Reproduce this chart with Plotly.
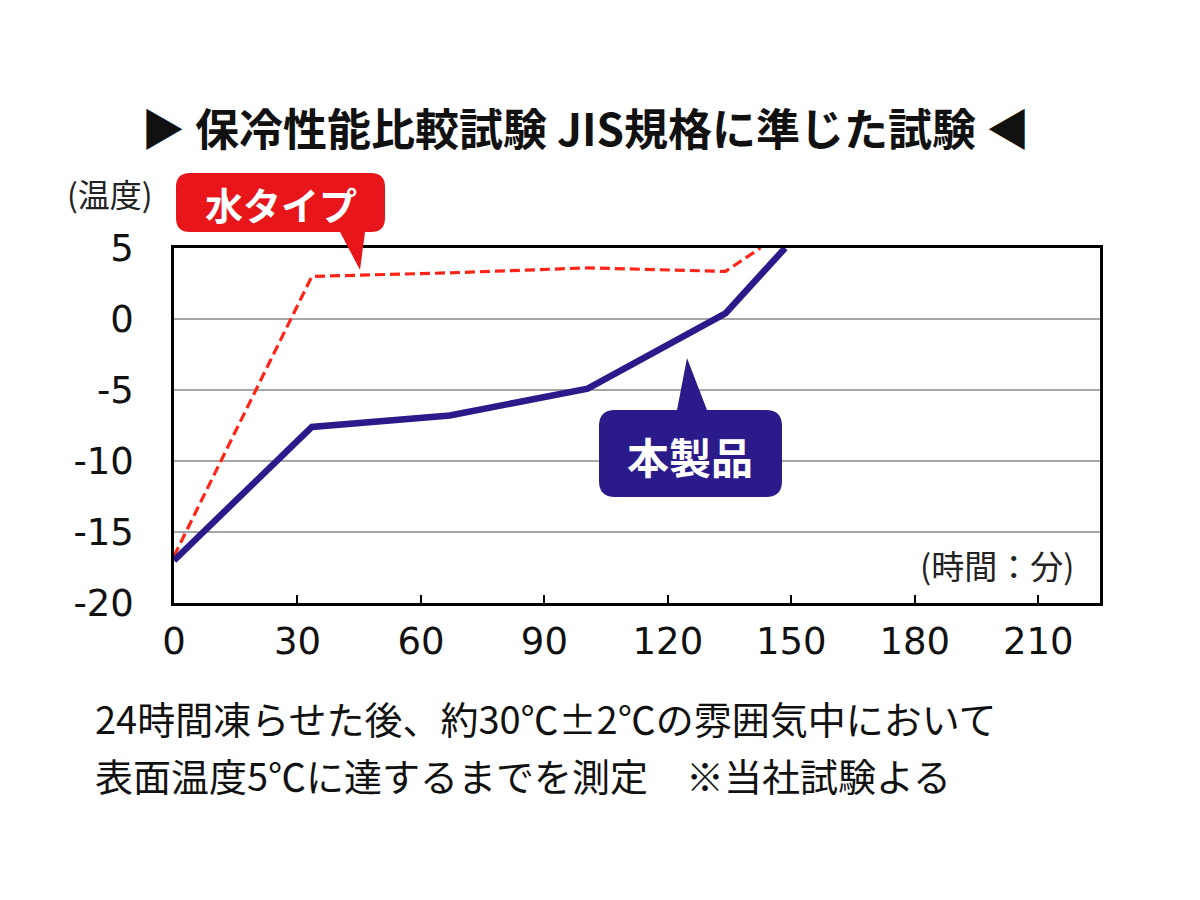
import plotly.graph_objects as go

# 時間（分）と表面温度（℃）
minutes_product = [0, 33.5, 67, 100.5, 134, 148.5]
temp_product = [-17.0, -7.6, -6.8, -4.9, 0.4, 5.0]

minutes_water = [0, 33.5, 67, 100.5, 134, 142.5]
temp_water = [-16.7, 3.0, 3.25, 3.6, 3.35, 5.0]

x_ticks = [0, 30, 60, 90, 120, 150, 180, 210]
y_ticks = [5, 0, -5, -10, -15, -20]
y_ticktext = ["5", "0", "-5", "-10", "-15", "-20"]

FONT = "Noto Sans CJK JP"
NUM_FONT = "DejaVu Sans"
BLUE = "#2b1a8a"
RED = "#e8151b"

# plot area in page pixels (left, top, width, height); page body adds ~8px
OFF = 8
L, T, W, H = 174, 248, 926, 355

fig = go.Figure()
fig.add_trace(go.Scatter(x=minutes_water, y=temp_water, mode="lines",
                         line=dict(color="#ff2418", width=3.2, dash="10px,5px"),
                         name="水タイプ"))
fig.add_trace(go.Scatter(x=minutes_product, y=temp_product, mode="lines",
                         line=dict(color=BLUE, width=6.5),
                         name="本製品"))


def rounded(x0, x1, y0, y1, r, notch=None):
    # pixel path relative to plot top-left, y up; notch = (bx0, bx1, tx, ty, side)
    p = f"M {x0+r},{y1} "
    if notch and notch[4] == "top":
        bx0, bx1, tx, ty, _ = notch
        p += f"L {bx0},{y1} L {tx},{ty} L {bx1},{y1} "
    p += f"L {x1-r},{y1} Q {x1},{y1} {x1},{y1-r} L {x1},{y0+r} Q {x1},{y0} {x1-r},{y0} "
    if notch and notch[4] == "bottom":
        bx0, bx1, tx, ty, _ = notch
        p += f"L {bx1},{y0} L {tx},{ty} L {bx0},{y0} "
    p += f"L {x0+r},{y0} Q {x0},{y0} {x0},{y0+r} L {x0},{y1-r} Q {x0},{y1} {x0+r},{y1} Z"
    return p


shape_common = dict(type="path", xref="paper", yref="paper", xsizemode="pixel",
                    ysizemode="pixel", xanchor=0, yanchor=1, line_width=0, layer="above")
fig.add_shape(path=rounded(2, 211, 16, 75, 14, (166, 191, 186, -22, "bottom")),
              fillcolor=RED, **shape_common)
fig.add_shape(path=rounded(425, 608, -249, -162, 16, (503, 533, 513, -110, "top")),
              fillcolor=BLUE, **shape_common)


def px(x):
    return (x - L) / W


def py(y):
    return (T + H - y) / H


annotations = [
    dict(text="▶ 保冷性能比較試験 JIS規格に準じた試験 ◀", x=px(585), y=py(127),
         font=dict(size=44, color="#111", family=FONT, weight="bold")),
    dict(text="(温度)", x=px(110), y=py(193), font=dict(size=32, color="#222", family=FONT)),
    dict(text="(時間：分)", x=px(997), y=py(565), font=dict(size=33, color="#222", family=FONT)),
    dict(text="水タイプ", x=px(281), y=py(204),
         font=dict(size=38, color="white", family=FONT, weight="bold")),
    dict(text="本製品", x=px(690), y=py(455),
         font=dict(size=42, color="white", family=FONT, weight="bold")),
    dict(text="24時間凍らせた後、約30℃±2℃の雰囲気中において",
         x=px(93), y=py(717), xanchor="left", font=dict(size=38, color="#111", family=FONT)),
    dict(text="表面温度5℃に達するまでを測定　※当社試験よる",
         x=px(93), y=py(774), xanchor="left", font=dict(size=38, color="#111", family=FONT)),
]
for a in annotations:
    a.setdefault("xanchor", "center")
    a.setdefault("yanchor", "middle")
    fig.add_annotation(xref="paper", yref="paper", showarrow=False, **a)

fig.update_xaxes(range=[0, 225], tickvals=x_ticks, ticks="inside", ticklen=8, tickwidth=2,
                 tickcolor="black", showline=True, linecolor="black", linewidth=2.5,
                 mirror=True, showgrid=False, zeroline=False, ticklabelstandoff=4,
                 tickfont=dict(size=37, color="#111", family=NUM_FONT))
fig.update_yaxes(range=[-20, 5], tickvals=y_ticks, ticktext=y_ticktext, ticks="",
                 showline=True, linecolor="black", linewidth=2.5, mirror=True,
                 showgrid=True, gridcolor="#a6a6a6", gridwidth=2, zeroline=False,
                 ticklabelstandoff=30,
                 tickfont=dict(size=37, color="#111", family=NUM_FONT))

fig.update_layout(width=1200, height=900, showlegend=False,
                  margin=dict(l=L - OFF, r=1200 - L - W + OFF, t=T - OFF, b=900 - T - H + OFF),
                  plot_bgcolor="white", paper_bgcolor="white")

fig.write_html("out.html")
